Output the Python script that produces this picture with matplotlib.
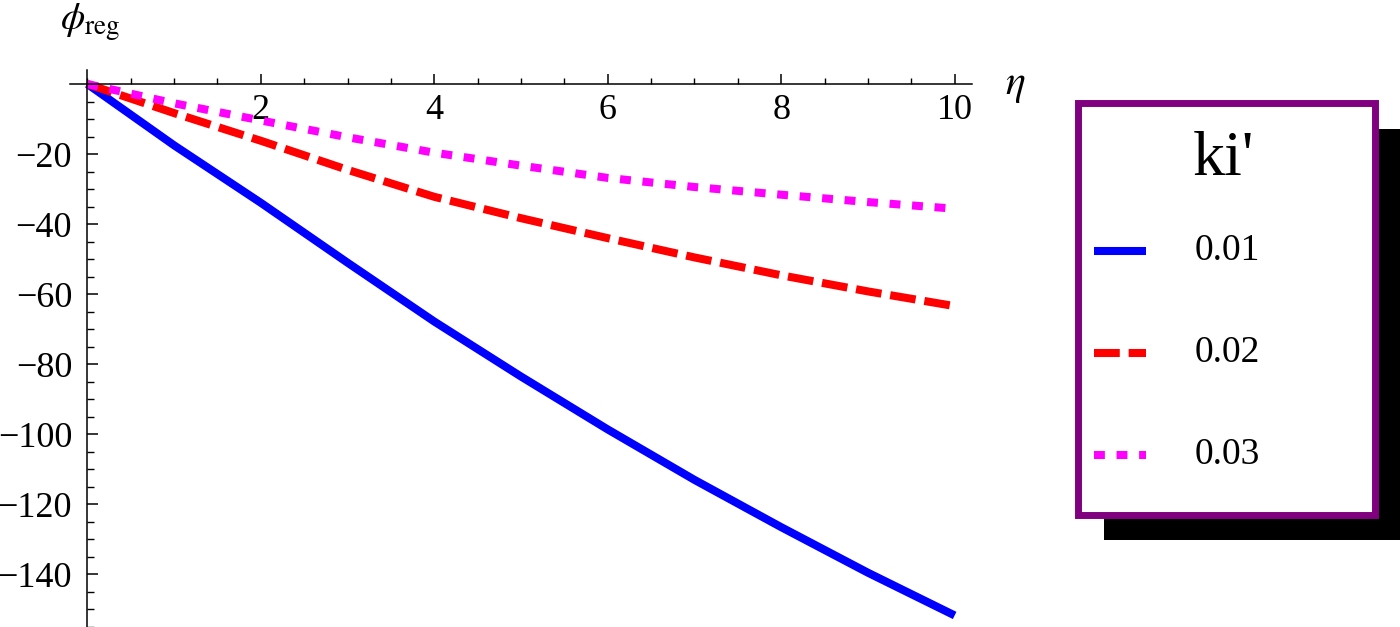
import matplotlib
matplotlib.use("Agg")
import matplotlib.pyplot as plt
from matplotlib.lines import Line2D
from matplotlib.patches import Rectangle
from matplotlib.ticker import MultipleLocator

plt.rcParams['font.family'] = ['Liberation Serif', 'DejaVu Serif']
plt.rcParams['mathtext.fontset'] = 'stix'

# data
eta = [0, 1, 2, 3, 4, 5, 6, 7, 8, 9, 10]
phi_001 = [0, -17.5, -33.9, -51.0, -67.8, -83.5, -98.6, -113.0, -126.5, -139.5, -151.7]
phi_002 = [0, -8.3, -16.2, -24.5, -32.2, -38.3, -44.0, -49.5, -54.6, -59.2, -63.4]
phi_003 = [0, -5.5, -10.4, -15.2, -19.6, -23.3, -26.8, -29.4, -31.6, -33.7, -35.6]
labels = ['0.01', '0.02', '0.03']
legend_title = "ki'"

W, H = 1400, 627
def fx(px):
    return px / W
def fy(py):
    return 1 - py / H

styles = [
    dict(color='#0000ff', lw=5.8, ls='-', solid_capstyle='butt', solid_joinstyle='round'),
    dict(color='#ff0000', lw=5.8, ls=(0, (3.2, 1.1)), dash_capstyle='butt'),
    dict(color='#ff00ff', lw=5.8, ls=(0, (1.35, 1.45)), dash_capstyle='butt'),
]

fig = plt.figure(figsize=(14, 6.27), dpi=100)
ax = fig.add_axes([fx(70), 0, 902 / W, 557 / H])

for ys, st in zip([phi_001, phi_002, phi_003], styles):
    ax.plot(eta, ys, clip_on=False, **st)

ax.set_xlim(-0.2, 10.2)
ax.set_ylim(-155, 4)
ax.spines['left'].set_position(('data', 0))
ax.spines['bottom'].set_position(('data', 0))
ax.spines['top'].set_visible(False)
ax.spines['right'].set_visible(False)
for s in ['left', 'bottom']:
    ax.spines[s].set_linewidth(1.1)
ax.set_xticks([2, 4, 6, 8, 10])
ax.set_yticks([-140, -120, -100, -80, -60, -40, -20])
ax.xaxis.set_minor_locator(MultipleLocator(0.5))
ax.yaxis.set_minor_locator(MultipleLocator(5))
ax.tick_params(axis='x', which='major', direction='in', length=7, width=1.1, labelsize=26, pad=7)
ax.tick_params(axis='x', which='minor', direction='in', length=4, width=1.0)
ax.tick_params(axis='y', which='major', direction='in', length=8, width=1.1, labelsize=26, pad=11)
ax.tick_params(axis='y', which='minor', direction='in', length=5, width=1.0)
ax.patch.set_visible(False)

fig.text(fx(60), fy(22), r'$\phi_{\mathrm{reg}}$', fontsize=28, ha='left', va='center')
fig.text(fx(1015), fy(86), r'$\eta$', fontsize=30, ha='center', va='center')

# legend box with shadow
fig.patches.append(Rectangle((fx(1104), fy(540)), fx(1400) - fx(1104), fy(129) - fy(540),
                             transform=fig.transFigure, facecolor='black', edgecolor='none', zorder=1))
fig.patches.append(Rectangle((fx(1077.5), fy(514.5)), fx(1374.5) - fx(1077.5), fy(102.5) - fy(514.5),
                             transform=fig.transFigure, facecolor='white', edgecolor='#800080',
                             linewidth=5, zorder=2))
fig.text(fx(1223), fy(160), legend_title, fontsize=46, ha='center', va='center', zorder=3)
for i, (lab, st) in enumerate(zip(labels, styles)):
    yy = fy(251 + 102 * i)
    fig.lines.append(Line2D([fx(1094), fx(1146)], [yy, yy], transform=fig.transFigure, zorder=3, **st))
    fig.text(fx(1195), yy, lab, fontsize=27, ha='left', va='center', zorder=3)

fig.savefig('out.png', dpi=100)
